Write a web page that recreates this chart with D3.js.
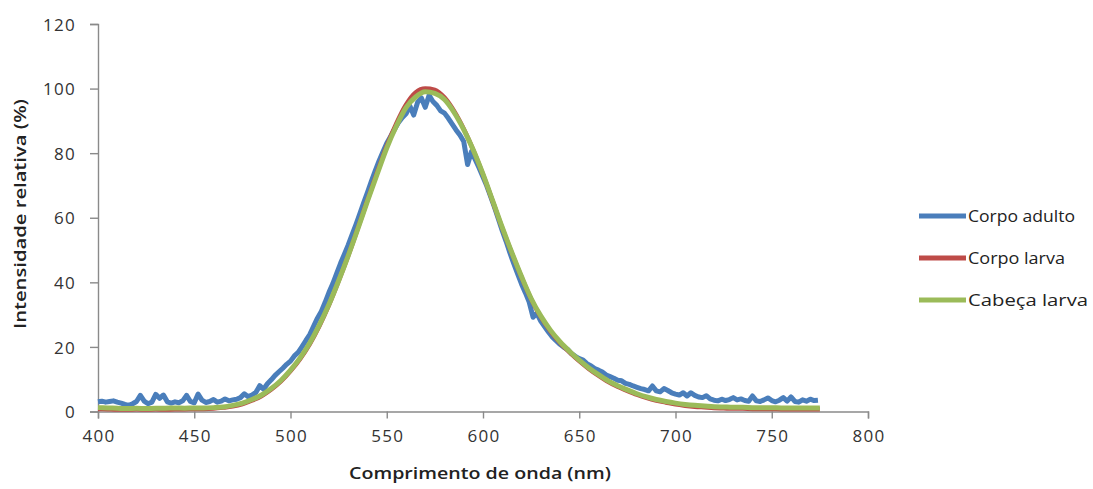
<!DOCTYPE html>
<html>
<head>
<meta charset="utf-8">
<script src="https://cdn.jsdelivr.net/npm/d3@7"></script>
<style>
  html, body { margin: 0; padding: 0; background: #ffffff; }
  svg { display: block; }
</style>
</head>
<body>
<svg id="chart" width="1093" height="489"></svg>
<script>
// Emission spectra: relative intensity (%) versus wavelength (nm)

// Sampling grids (nm)
const adultStart = 400, adultStep = 2;   // Corpo adulto, sampled every 2 nm
const larvaStart = 400, larvaStep = 5;   // larva curves, sampled every 5 nm

// Corpo adulto (400–774 nm)
const corpoAdulto = [
  3.0, 3.2, 2.9, 3.1, 3.3, 2.9, 2.6, 2.2, 1.9, 2.4,
  3.1, 5.0, 3.2, 2.4, 2.9, 5.3, 4.1, 5.1, 3.0, 2.6,
  3.0, 2.7, 3.3, 5.0, 3.1, 2.7, 5.4, 3.5, 2.8, 3.1,
  3.7, 2.9, 3.2, 3.9, 3.3, 3.6, 3.8, 4.3, 5.5, 4.6,
  5.1, 5.9, 8.0, 6.9, 8.6, 9.8, 11.2, 12.3, 13.4, 14.6,
  15.6, 17.2, 18.3, 20.1, 22.0, 23.8, 26.4, 28.9, 31.0, 33.8,
  36.9, 39.6, 42.8, 45.9, 48.7, 51.6, 54.8, 57.9, 61.2, 64.6,
  67.9, 71.3, 74.5, 77.6, 80.4, 83.1, 85.2, 87.3, 89.4, 91.0,
  92.2, 94.6, 91.8, 95.7, 97.1, 94.2, 97.9, 96.0, 94.8, 93.1,
  92.4, 90.8, 89.0, 87.2, 85.6, 83.6, 76.5, 80.5, 78.0, 75.4,
  72.6, 69.8, 66.5, 63.2, 59.6, 56.0, 52.7, 49.1, 45.8, 42.6,
  39.5, 36.8, 33.9, 29.2, 30.4, 28.0, 26.3, 24.6, 23.1, 21.9,
  20.8, 19.9, 19.2, 17.9, 17.1, 16.4, 15.9, 14.8, 14.2, 13.3,
  12.8, 12.2, 11.3, 10.8, 10.3, 9.7, 9.5, 8.7, 8.4, 7.9,
  7.5, 7.1, 6.8, 6.4, 7.9, 6.4, 6.1, 7.1, 6.5, 5.8,
  5.4, 5.1, 5.8, 4.8, 5.8, 5.0, 4.5, 4.3, 4.9, 3.9,
  3.5, 3.3, 3.8, 3.4, 3.7, 4.3, 3.6, 3.9, 3.4, 3.2,
  4.8, 3.3, 3.1, 3.6, 4.2, 3.4, 3.0, 3.5, 4.3, 3.2,
  4.5, 3.1, 2.9, 3.6, 3.2, 3.8, 3.4, 3.5
];

// Corpo larva (400–775 nm)
const corpoLarva = [
  0.8, 0.7, 0.6, 0.6, 0.7, 0.6, 0.7, 0.6, 0.7, 0.7,
  0.8, 0.8, 0.9, 1.2, 1.6, 2.3, 3.4, 4.8, 6.8, 9.3,
  12.5, 16.3, 20.9, 26.5, 33.0, 40.4, 48.3, 56.8, 65.5, 74.0,
  82.2, 89.2, 95.0, 98.8, 100.0, 99.6, 97.2, 93.0, 87.5, 80.9,
  73.4, 65.1, 56.8, 49.0, 41.6, 34.8, 29.3, 24.9, 21.3, 18.3,
  15.6, 13.2, 11.1, 9.2, 7.7, 6.4, 5.2, 4.2, 3.4, 2.8,
  2.2, 1.8, 1.5, 1.3, 1.1, 1.0, 0.9, 0.9, 0.8, 0.8,
  0.8, 0.7, 0.7, 0.7, 0.7, 0.7
];

// Cabeça larva (400–775 nm)
const cabecaLarva = [
  1.2, 1.1, 1.0, 0.9, 1.0, 0.9, 1.0, 1.0, 1.1, 1.0,
  1.1, 1.1, 1.2, 1.4, 1.9, 2.6, 3.7, 5.1, 7.1, 9.6,
  12.8, 16.6, 21.2, 26.8, 33.2, 40.5, 48.3, 56.6, 65.2, 73.5,
  81.6, 88.4, 94.1, 97.4, 99.0, 98.5, 96.6, 92.6, 87.3, 80.9,
  73.5, 65.3, 57.0, 49.2, 41.8, 35.0, 29.6, 25.2, 21.6, 18.6,
  15.9, 13.5, 11.4, 9.5, 8.0, 6.7, 5.5, 4.5, 3.7, 3.1,
  2.6, 2.2, 1.9, 1.7, 1.5, 1.4, 1.3, 1.3, 1.2, 1.2,
  1.2, 1.1, 1.1, 1.1, 1.1, 1.1
];

const seriesNames = ["Corpo adulto", "Corpo larva", "Cabeça larva"];
const seriesColors = ["#4a7ebb", "#be4b48", "#9bbb59"];

const xTicks = [400, 450, 500, 550, 600, 650, 700, 750, 800];
const yTicks = [0, 20, 40, 60, 80, 100, 120];
const xTitle = "Comprimento de onda (nm)";
const yTitle = "Intensidade relativa (%)";

// ---- layout ----
const svg = d3.select("#chart");
const plot = { left: 98, right: 868, top: 24, bottom: 411.5 };

const x = d3.scaleLinear().domain([400, 800]).range([plot.left, plot.right]);
const y = d3.scaleLinear().domain([0, 120]).range([plot.bottom, plot.top]);

const axisColor = "#8a8a8a";
const textColor = "#333333";
const fontFamily = "'Open Sans', 'DejaVu Sans', sans-serif";

// ---- axes ----
const yAxis = svg.append("g")
  .attr("transform", `translate(${plot.left},0)`)
  .call(d3.axisLeft(y).tickValues(yTicks).tickSize(8).tickPadding(14).tickFormat(d3.format("d")));

const xAxis = svg.append("g")
  .attr("transform", `translate(0,${plot.bottom})`)
  .call(d3.axisBottom(x).tickValues(xTicks).tickSize(7).tickPadding(11).tickFormat(d3.format("d")));

[yAxis, xAxis].forEach(g => {
  g.select(".domain").attr("stroke", axisColor).attr("stroke-width", 1.4);
  g.selectAll(".tick line").attr("stroke", axisColor).attr("stroke-width", 1.4);
  g.selectAll(".tick text")
    .attr("fill", textColor)
    .style("font-family", fontFamily)
    .style("font-size", "17px")
    .style("letter-spacing", "1.3px");
});
yAxis.selectAll(".tick text").attr("dy", "0.36em");
xAxis.selectAll(".tick text").attr("dx", "0.6px");

// ---- series ----
const adultPoints = corpoAdulto.map((v, i) => [adultStart + i * adultStep, v]);
const larvaPoints = corpoLarva.map((v, i) => [larvaStart + i * larvaStep, v]);
const headPoints = cabecaLarva.map((v, i) => [larvaStart + i * larvaStep, v]);

const jagged = d3.line().x(d => x(d[0])).y(d => y(d[1])).curve(d3.curveLinear);
const smooth = d3.line().x(d => x(d[0])).y(d => y(d[1])).curve(d3.curveMonotoneX);

const lines = svg.append("g").attr("fill", "none").attr("stroke-linejoin", "round").attr("stroke-linecap", "butt");

lines.append("path").datum(adultPoints)
  .attr("d", jagged).attr("stroke", seriesColors[0]).attr("stroke-width", 5);
lines.append("path").datum(larvaPoints)
  .attr("d", smooth).attr("stroke", seriesColors[1]).attr("stroke-width", 4.5);
lines.append("path").datum(headPoints)
  .attr("d", smooth).attr("stroke", seriesColors[2]).attr("stroke-width", 5);

// ---- axis titles ----
svg.append("text")
  .attr("x", 480).attr("y", 479)
  .attr("text-anchor", "middle")
  .attr("fill", "#222")
  .attr("textLength", 262)
  .attr("lengthAdjust", "spacingAndGlyphs")
  .style("font-family", fontFamily)
  .style("font-size", "17px")
  .style("font-weight", "600")
  .text(xTitle);

svg.append("text")
  .attr("transform", "translate(26,214) rotate(-90)")
  .attr("text-anchor", "middle")
  .attr("fill", "#222")
  .attr("textLength", 230)
  .attr("lengthAdjust", "spacingAndGlyphs")
  .style("font-family", fontFamily)
  .style("font-size", "17px")
  .style("font-weight", "600")
  .text(yTitle);

// ---- legend ----
const legendWidths = [107, 97, 120];
const legend = svg.append("g");
seriesNames.forEach((name, i) => {
  const ly = 216 + i * 42;
  legend.append("line")
    .attr("x1", 919).attr("x2", 966)
    .attr("y1", ly).attr("y2", ly)
    .attr("stroke", seriesColors[i]).attr("stroke-width", 5);
  legend.append("text")
    .attr("x", 968).attr("y", ly)
    .attr("dy", "0.35em")
    .attr("fill", "#222")
    .attr("textLength", legendWidths[i])
    .attr("lengthAdjust", "spacingAndGlyphs")
    .style("font-family", fontFamily)
    .style("font-size", "17px")
    .text(name);
});
</script>
</body>
</html>
